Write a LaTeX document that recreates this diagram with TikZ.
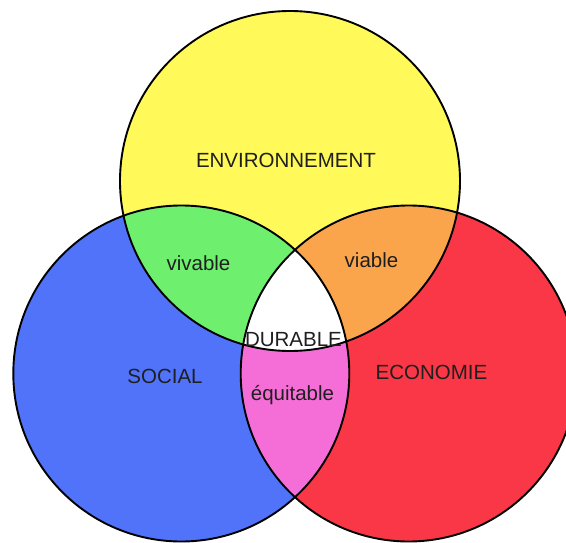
\documentclass[tikz,border=0pt]{standalone}
\usepackage{fontspec}
\setmainfont{Liberation Sans}
\usepackage{tikz}
\usetikzlibrary{positioning}
\definecolor{envyellow}{RGB}{255,250,90}
\definecolor{socblue}{RGB}{80,115,250}
\definecolor{ecored}{RGB}{250,55,70}
\definecolor{vivgreen}{RGB}{110,240,110}
\definecolor{viaorange}{RGB}{250,165,75}
\definecolor{equipink}{RGB}{245,110,215}
\tikzset{
  lbl/.style={inner sep=0pt,text=black!88,font=\fontsize{20.5}{24}\selectfont},
  rim/.style={line width=1.9pt,black}
}
\begin{document}
\begin{tikzpicture}[line cap=round,line join=round,x=1pt,y=-1pt]
\useasboundingbox (0,0) rectangle (566,543);
\clip (0,0) rectangle (566,543);
\fill[white] (0,0) rectangle (566,543);
\fill[envyellow] (290,181) circle (170);
\fill[socblue] (181.3,373.5) circle (168);
\fill[ecored] (408.7,373.5) circle (168);
\begin{scope}
\clip (290,181) circle (170);
\fill[vivgreen] (181.3,373.5) circle (168);
\fill[viaorange] (408.7,373.5) circle (168);
\end{scope}
\begin{scope}
\clip (181.3,373.5) circle (168);
\fill[equipink] (408.7,373.5) circle (168);
\clip (408.7,373.5) circle (168);
\fill[white] (290,181) circle (170);
\end{scope}
\draw[rim] (290,181) circle (170);
\draw[rim] (181.3,373.5) circle (168);
\draw[rim] (408.7,373.5) circle (168);
\node[lbl] (env) at (286,160) {ENVIRONNEMENT};
\node[lbl] (soc) at (165,376) {SOCIAL};
\node[lbl] (eco) at (431.5,372.5) {ECONOMIE};
\node[lbl] (viv) at (198.5,263) {vivable};
\node[lbl] (via) at (371.5,260) {viable};
\node[lbl] (dur) at (293.5,339.5) {DURABLE};
\node[lbl] (equ) at (292.5,395) {équitable};
\end{tikzpicture}
\end{document}
